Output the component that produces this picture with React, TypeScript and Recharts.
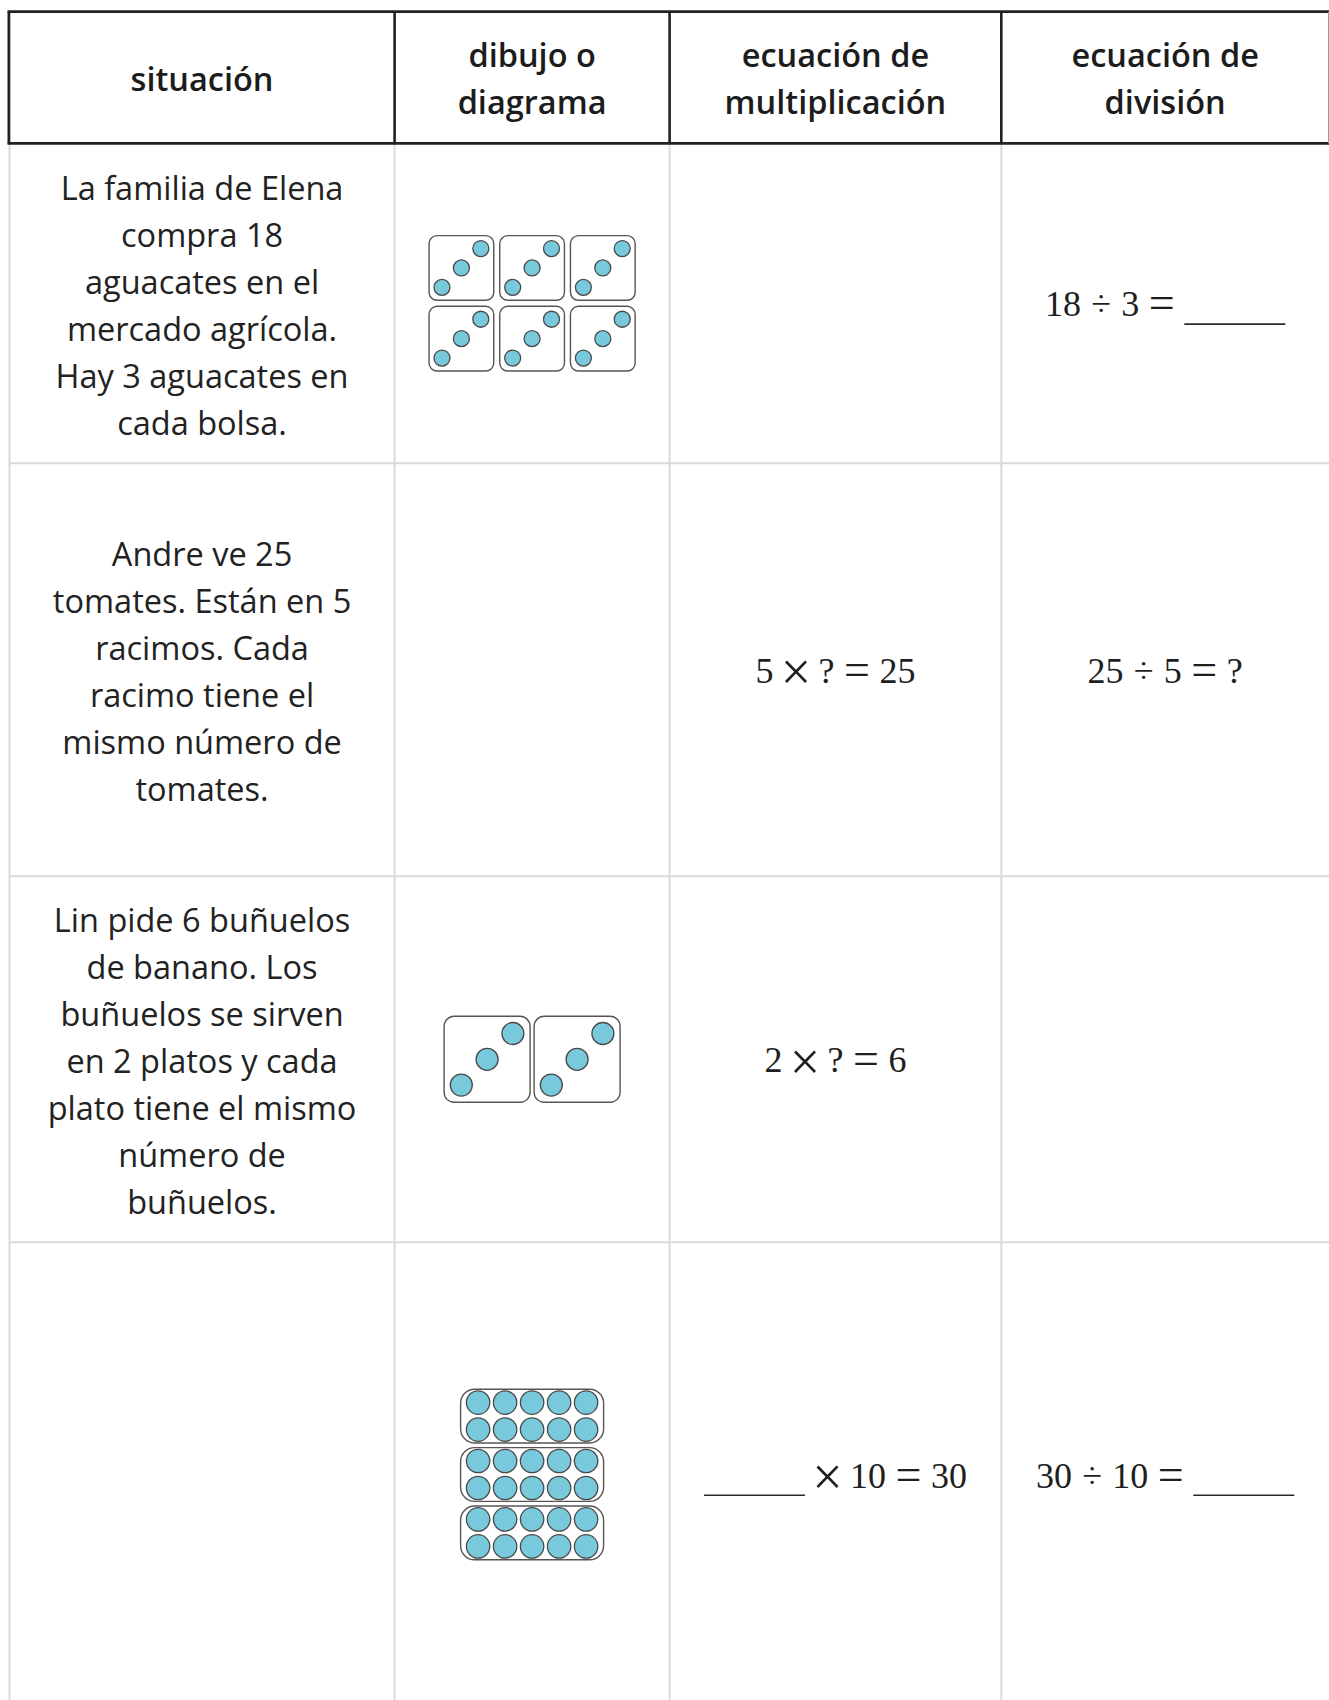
import React from 'react';
import { ScatterChart, Scatter, XAxis, YAxis, ReferenceArea, Customized } from 'recharts';

// ---------- data ----------
const headers: string[][] = [
  ['situación'],
  ['dibujo o', 'diagrama'],
  ['ecuación de', 'multiplicación'],
  ['ecuación de', 'división'],
];

const situations: string[][] = [
  ['La familia de Elena', 'compra 18', 'aguacates en el', 'mercado agrícola.', 'Hay 3 aguacates en', 'cada bolsa.'],
  ['Andre ve 25', 'tomates. Están en 5', 'racimos. Cada', 'racimo tiene el', 'mismo número de', 'tomates.'],
  ['Lin pide 6 buñuelos', 'de banano. Los', 'buñuelos se sirven', 'en 2 platos y cada', 'plato tiene el mismo', 'número de', 'buñuelos.'],
  [],
];

// "_" marks a blank to fill in
const multiplicationEquations: string[][] = [
  [],
  ['5', '×', '?', '=', '25'],
  ['2', '×', '?', '=', '6'],
  ['_', '×', '10', '=', '30'],
];

const divisionEquations: string[][] = [
  ['18', '÷', '3', '=', '_'],
  ['25', '÷', '5', '=', '?'],
  [],
  ['30', '÷', '10', '=', '_'],
];

const groupCounts = [6, 0, 2, 3];
const itemsPerGroup = [3, 0, 3, 10];

// ---------- layout / style ----------
const W = 1329;
const H = 1700;
const colX = [9.5, 394.6, 669.6, 1001.3, 1329];
const headerTop = 11.7;
const headerBottom = 143.3;
const rowLines = [143.3, 463.3, 876.3, 1242.3, 1706.7];

const SANS = "'Open Sans', 'Noto Sans', sans-serif";
const SERIF = "'Liberation Serif', 'Times New Roman', serif";
const TEXT_SIZE = 32.5;
const DOT_FILL = '#79C9DC';
const DOT_STROKE = '#4a4a4a';
const BOX_STROKE = '#555555';

type DiagramStyle = {
  kind: 'dice' | 'frame';
  cols: number;
  w: number;
  h: number;
  gap: number;
  rx: number;
  r: number;
  step?: number;
  perRow?: number;
};

const diagramStyles: (DiagramStyle | null)[] = [
  { kind: 'dice', cols: 3, w: 64.7, h: 64.7, gap: 6, rx: 8, r: 8 },
  null,
  { kind: 'dice', cols: 2, w: 86, h: 86, gap: 4, rx: 10, r: 11 },
  { kind: 'frame', cols: 1, w: 143, h: 53.7, gap: 4.7, rx: 14, r: 11.7, step: 27, perRow: 5 },
];

const colCenter = (c: number) => (colX[c] + colX[c + 1]) / 2;
const rowCenter = (r: number) => (rowLines[r] + rowLines[r + 1]) / 2;

type Box = { x1: number; x2: number; y1: number; y2: number };
type Pt = { x: number; y: number };

function buildDiagram(row: number): { boxes: Box[]; dots: Pt[] } {
  const st = diagramStyles[row];
  const groups = groupCounts[row];
  const items = itemsPerGroup[row];
  const boxes: Box[] = [];
  const dots: Pt[] = [];
  if (!st || groups === 0) return { boxes, dots };
  const rowsCount = Math.ceil(groups / st.cols);
  const totalW = st.cols * st.w + (st.cols - 1) * st.gap;
  const totalH = rowsCount * st.h + (rowsCount - 1) * st.gap;
  const x0 = colCenter(1) - totalW / 2;
  const y0 = rowCenter(row) - totalH / 2;
  for (let g = 0; g < groups; g++) {
    const c = g % st.cols;
    const rr = Math.floor(g / st.cols);
    const bx = x0 + c * (st.w + st.gap);
    const by = y0 + rr * (st.h + st.gap);
    boxes.push({ x1: bx, x2: bx + st.w, y1: by, y2: by + st.h });
    for (let k = 0; k < items; k++) {
      if (st.kind === 'dice') {
        const t = 0.2 + (0.6 * k) / Math.max(1, items - 1);
        dots.push({ x: bx + t * st.w, y: by + (1 - t) * st.h });
      } else {
        const step = st.step as number;
        const perRow = st.perRow as number;
        const i = Math.floor(k / perRow);
        const j = k % perRow;
        dots.push({
          x: bx + (st.w - (perRow - 1) * step) / 2 + j * step,
          y: by + (st.h - step) / 2 + i * step,
        });
      }
    }
  }
  return { boxes, dots };
}

const diagrams = [0, 1, 2, 3].map(buildDiagram);

// equation typesetting
const EQ_SIZE = 36;
const EQ_GAP = 10;
const BLANK_W = 101;
const symbolStyle: Record<string, { w: number; size: number; dy: number }> = {
  '×': { w: 25, size: 54, dy: 7.5 },
  '=': { w: 25, size: 46, dy: 2 },
  '÷': { w: 20.3, size: 36, dy: 0 },
  '?': { w: 16, size: 36, dy: 0 },
};
const tokenW = (t: string) => {
  if (t === '_') return BLANK_W;
  if (symbolStyle[t]) return symbolStyle[t].w;
  return t.length * 0.5 * EQ_SIZE;
};

function Equation({ tokens, cx, cy, k }: { tokens: string[]; cx: number; cy: number; k: string }) {
  if (!tokens.length) return null;
  const total = tokens.reduce((s, t) => s + tokenW(t), 0) + EQ_GAP * (tokens.length - 1);
  let x = cx - total / 2;
  const base = cy + 13;
  const els: React.ReactNode[] = [];
  tokens.forEach((t, i) => {
    const w = tokenW(t);
    if (t === '_') {
      els.push(
        <line key={`${k}-${i}`} x1={x} x2={x + w} y1={base + 7.8} y2={base + 7.8} stroke="#2a2a2a" strokeWidth={1.6} />
      );
    } else if (symbolStyle[t]) {
      const s = symbolStyle[t];
      els.push(
        <text key={`${k}-${i}`} x={x + w / 2} y={base + s.dy} fontFamily={SERIF} fontSize={s.size} fill="#1e1e1e" textAnchor="middle">
          {t}
        </text>
      );
    } else {
      els.push(
        <text key={`${k}-${i}`} x={x} y={base} fontFamily={SERIF} fontSize={EQ_SIZE} fill="#1e1e1e" textAnchor="start">
          {t}
        </text>
      );
    }
    x += w + EQ_GAP;
  });
  return <g>{els}</g>;
}

function TableLayer() {
  const els: React.ReactNode[] = [];
  // body grid (thin gray)
  const GRAY = '#dadada';
  for (let c = 0; c < 4; c++) {
    els.push(<line key={`bv${c}`} x1={colX[c]} x2={colX[c]} y1={headerBottom} y2={H} stroke={GRAY} strokeWidth={2} />);
  }
  for (let r = 1; r < 4; r++) {
    els.push(<line key={`bh${r}`} x1={colX[0]} x2={W} y1={rowLines[r]} y2={rowLines[r]} stroke={GRAY} strokeWidth={2} />);
  }
  // header (thick dark)
  const DARK = '#222222';
  els.push(<line key="ht" x1={7.5} x2={W} y1={headerTop} y2={headerTop} stroke={DARK} strokeWidth={2.8} />);
  els.push(<line key="hb" x1={7.5} x2={W} y1={headerBottom} y2={headerBottom} stroke={DARK} strokeWidth={2.8} />);
  els.push(<line key="hl" x1={8.9} x2={8.9} y1={headerTop} y2={headerBottom} stroke={DARK} strokeWidth={2.8} />);
  for (let c = 1; c < 4; c++) {
    els.push(<line key={`hv${c}`} x1={colX[c]} x2={colX[c]} y1={headerTop} y2={headerBottom} stroke={DARK} strokeWidth={2.6} />);
  }
  els.push(<line key="hr" x1={1328.5} x2={1328.5} y1={headerTop} y2={headerBottom} stroke="#9a9a9a" strokeWidth={1} />);

  // header text
  const hc = (headerTop + headerBottom) / 2;
  headers.forEach((lines, c) => {
    lines.forEach((ln, i) => {
      els.push(
        <text
          key={`h${c}-${i}`}
          x={colCenter(c)}
          y={hc + (i - (lines.length - 1) / 2) * 46.6 + 13}
          fontFamily={SANS}
          fontWeight={600}
          fontSize={TEXT_SIZE}
          fill="#1c1c1c"
          textAnchor="middle"
        >
          {ln}
        </text>
      );
    });
  });

  // situations
  situations.forEach((lines, r) => {
    const cy = rowCenter(r);
    lines.forEach((ln, i) => {
      els.push(
        <text
          key={`s${r}-${i}`}
          x={colCenter(0)}
          y={cy + (i - (lines.length - 1) / 2) * 47 + 14}
          fontFamily={SANS}
          fontSize={TEXT_SIZE}
          fill="#222222"
          textAnchor="middle"
        >
          {ln}
        </text>
      );
    });
  });

  // equations
  multiplicationEquations.forEach((tk, r) => {
    els.push(<Equation key={`m${r}`} k={`m${r}`} tokens={tk} cx={colCenter(2)} cy={rowCenter(r)} />);
  });
  divisionEquations.forEach((tk, r) => {
    els.push(<Equation key={`d${r}`} k={`d${r}`} tokens={tk} cx={colCenter(3)} cy={rowCenter(r)} />);
  });

  return <g>{els}</g>;
}

const makeDot = (r: number) => (props: any) => {
  const { cx, cy } = props;
  if (cx == null || cy == null) return <g />;
  return <circle cx={cx} cy={cy} r={r} fill={DOT_FILL} stroke={DOT_STROKE} strokeWidth={1.3} />;
};

export default function App() {
  return (
    <div
      style={{
        position: 'absolute',
        left: 0,
        top: 0,
        width: W,
        height: H,
        overflow: 'hidden',
        background: '#ffffff',
      }}
    >
      <ScatterChart width={W} height={H} margin={{ top: 0, right: 0, bottom: 0, left: 0 }}>
        <XAxis type="number" dataKey="x" domain={[0, W]} allowDataOverflow hide />
        <YAxis type="number" dataKey="y" domain={[0, H]} allowDataOverflow reversed hide />
        <Customized component={TableLayer} />
        {diagrams.map((d, row) =>
          d.boxes.map((b, i) => (
            <ReferenceArea
              key={`box-${row}-${i}`}
              x1={b.x1}
              x2={b.x2}
              y1={b.y1}
              y2={b.y2}
              ifOverflow="visible"
              shape={(p: any) => (
                <rect
                  x={p.x}
                  y={p.y}
                  width={p.width}
                  height={p.height}
                  rx={(diagramStyles[row] as DiagramStyle).rx}
                  ry={(diagramStyles[row] as DiagramStyle).rx}
                  fill="none"
                  stroke={BOX_STROKE}
                  strokeWidth={1.4}
                />
              )}
            />
          ))
        )}
        {diagrams.map((d, row) =>
          d.dots.length ? (
            <Scatter
              key={`dots-${row}`}
              data={d.dots}
              isAnimationActive={false}
              shape={makeDot((diagramStyles[row] as DiagramStyle).r)}
            />
          ) : null
        )}
      </ScatterChart>
    </div>
  );
}
